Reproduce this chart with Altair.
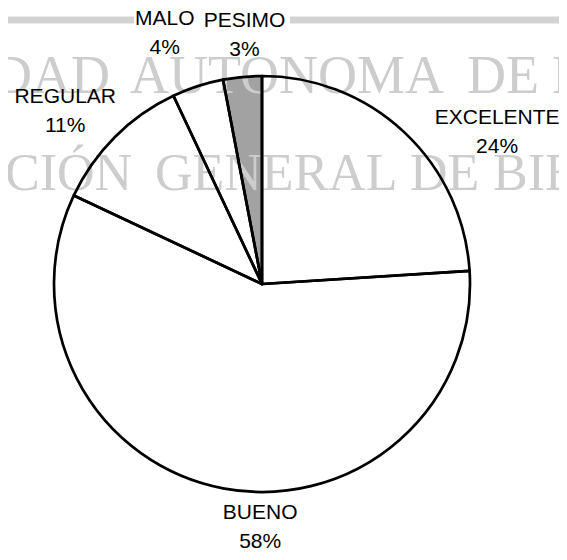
import altair as alt
import pandas as pd

# ---- data ----
categories = ["EXCELENTE", "BUENO", "REGULAR", "MALO", "PESIMO"]
values = [24, 58, 11, 4, 3]
watermark_line1 = ["DAD", "AUTONOMA", "DE", "N"]
watermark_line2 = ["CIÓN", "GENERAL", "DE", "BIBL"]

# ---- styling / layout (not data) ----
W, H = 551, 544
CX, CY, R = 254, 276, 208
LABEL_R = 250
SLICE_FILL = ["white", "white", "white", "white", "#a2a2a2"]
LABEL_NUDGE = {
    "EXCELENTE": (64, 16),
    "BUENO": (45, -17),
    "REGULAR": (-20, -10),
    "MALO": (-20, -27),
    "PESIMO": (6, -14),
}
WM1_X, WM1_Y, WM1_SIZE = [-15, 122, 459, 544], 85, 54
WM2_X, WM2_Y, WM2_SIZE = [-3, 147, 402, 485], 182, 52
WM_COLOR = "#cdcdcd"

total = sum(values)
df = pd.DataFrame({
    "cat": categories,
    "value": values,
    "order": list(range(len(categories))),
    "label": [f"{c}\n{v}%" for c, v in zip(categories, values)],
})

base = alt.Chart(df).encode(
    theta=alt.Theta("value:Q", stack=True),
    order=alt.Order("order:Q"),
    x=alt.value(CX),
    y=alt.value(CY),
)

fill = base.mark_arc(radius=R).encode(
    color=alt.Color("cat:N", scale=alt.Scale(domain=categories, range=SLICE_FILL), legend=None)
)
outline = base.mark_arc(radius=R, fillOpacity=0, stroke="black", strokeWidth=2.7, strokeJoin="round")

lab_base = alt.Chart(df).transform_window(
    cum="sum(value)", sort=[alt.SortField("order", order="ascending")]
).transform_calculate(mid="datum.cum - datum.value / 2")

labels = []
for c in categories:
    dx, dy = LABEL_NUDGE[c]
    labels.append(
        lab_base.transform_filter(alt.datum.cat == c).mark_text(
            radius=LABEL_R, dx=dx, dy=dy, font="Liberation Sans", fontSize=21,
            lineBreak="\n", lineHeight=29, align="center", baseline="middle", color="black",
        ).encode(
            theta=alt.Theta("mid:Q", stack=False, scale=alt.Scale(domain=[0, total])),
            x=alt.value(CX), y=alt.value(CY), text="label:N",
        )
    )

wm_df = pd.DataFrame({"k": [0]})
wm = []
for words, xs, yb, size in [(watermark_line1, WM1_X, WM1_Y, WM1_SIZE),
                            (watermark_line2, WM2_X, WM2_Y, WM2_SIZE)]:
    for word, xv in zip(words, xs):
        wm.append(alt.Chart(wm_df).mark_text(
            text=word, font="Liberation Serif", fontSize=size, color=WM_COLOR,
            align="left", baseline="alphabetic",
        ).encode(x=alt.value(xv), y=alt.value(yb)))

bar_df = pd.DataFrame({"k": [0]})
bar1 = alt.Chart(bar_df).mark_rule(color="#d2d2d2", strokeWidth=7).encode(
    x=alt.value(0), x2=alt.value(126), y=alt.value(12))
bar2 = alt.Chart(bar_df).mark_rule(color="#d2d2d2", strokeWidth=7).encode(
    x=alt.value(282), x2=alt.value(W), y=alt.value(12))

chart = alt.layer(bar1, bar2, fill, *wm, outline, *labels).resolve_scale(
    theta="independent"
).properties(
    width=W, height=H, padding=0, autosize=alt.AutoSizeParams(type="none")
).configure_view(strokeWidth=0)

chart.save("out.html", embed_options={"renderer": "svg", "actions": False})
